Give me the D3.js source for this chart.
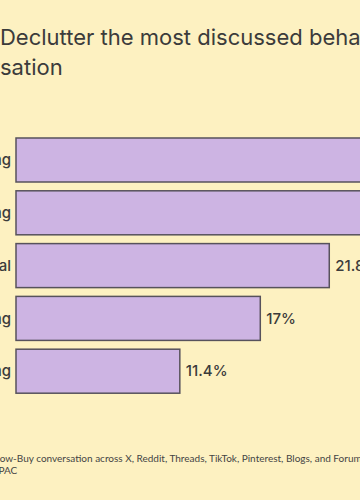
<!DOCTYPE html>
<html>
<head>
<meta charset="utf-8">
<script src="https://cdn.jsdelivr.net/npm/d3@7/dist/d3.min.js"></script>
<style>
  html, body { margin: 0; padding: 0; background: #fdf1c1; overflow: hidden; }
  svg { display: block; }
  text { font-family: Inter, "Noto Sans", sans-serif; fill: #3b3b3b; }
</style>
</head>
<body>
<svg id="chart" width="360" height="500"></svg>
<script>
const categories = ["Decluttering", "Repurposing", "Going minimal", "Thrifting", "Borrowing"];
const values = [30.0, 27.5, 21.8, 17.0, 11.4];
const valueLabels = ["30%", "27.5%", "21.8%", "17%", "11.4%"];
const titleLines = ["Ways to Declutter the most discussed behaviour in the", "No-Buy/Low-Buy conversation"];
const titleVisibleStarts = ["Declutter", "sation"];
const footLines = ["Source: Analysis of No-Buy/Low-Buy conversation across X, Reddit, Threads, TikTok, Pinterest, Blogs, and Forums", "Markets: EMEA, APAC"];
const footVisibleStarts = ["ow-Buy", "AC"];

const svg = d3.select("#chart");
svg.append("rect").attr("width", 360).attr("height", 500).attr("fill", "#fdf1c1");

const x = d3.scaleLinear().domain([0, 30]).range([16, 16 + 431.1]);
const y = d3.scaleBand().domain(categories).range([133.6, 397.6])
  .paddingInner(0.1667).paddingOuter(0.0833);

function placeLine(sel, full, visibleStart, targetX, y0, size, weight, family, color) {
  const t = sel.append("text").attr("y", y0).attr("font-size", size)
    .attr("font-weight", weight).text(full);
  if (family) t.style("font-family", family);
  if (color) t.style("fill", color);
  const idx = full.indexOf(visibleStart);
  const tmp = sel.append("text").attr("font-size", size).attr("font-weight", weight)
    .attr("x", 0).attr("y", -100).style("white-space", "pre").text(full.slice(0, idx));
  if (family) tmp.style("font-family", family);
  const w = idx > 0 ? tmp.node().getComputedTextLength() : 0;
  tmp.remove();
  t.attr("x", targetX - w);
  return t;
}

placeLine(svg, titleLines[0], titleVisibleStarts[0], 0, 45, 22, 400);
placeLine(svg, titleLines[1], titleVisibleStarts[1], 0, 75, 22, 400);

svg.append("g").selectAll("rect").data(categories).join("rect")
  .attr("x", x(0))
  .attr("y", d => y(d))
  .attr("width", (d, i) => x(values[i]) - x(0))
  .attr("height", y.bandwidth())
  .attr("fill", "#cdb4e3")
  .attr("stroke", "#57525c")
  .attr("stroke-width", 1.5);

svg.append("g").selectAll("text").data(categories).join("text")
  .attr("x", x(0) - 5)
  .attr("y", d => y(d) + y.bandwidth() / 2)
  .attr("dy", "0.35em")
  .attr("text-anchor", "end")
  .attr("font-size", 15)
  .attr("font-weight", 500)
  .text(d => d);

svg.append("g").selectAll("text").data(categories).join("text")
  .attr("x", (d, i) => x(values[i]) + 6)
  .attr("y", d => y(d) + y.bandwidth() / 2)
  .attr("dy", "0.35em")
  .attr("font-size", 15)
  .attr("font-weight", 500)
  .text((d, i) => valueLabels[i]);

placeLine(svg, footLines[0], footVisibleStarts[0], 0, 462, 10, 400, "Lato, sans-serif", "#444");
placeLine(svg, footLines[1], footVisibleStarts[1], 4.5, 474, 10, 400, "Lato, sans-serif", "#444");
</script>
</body>
</html>
